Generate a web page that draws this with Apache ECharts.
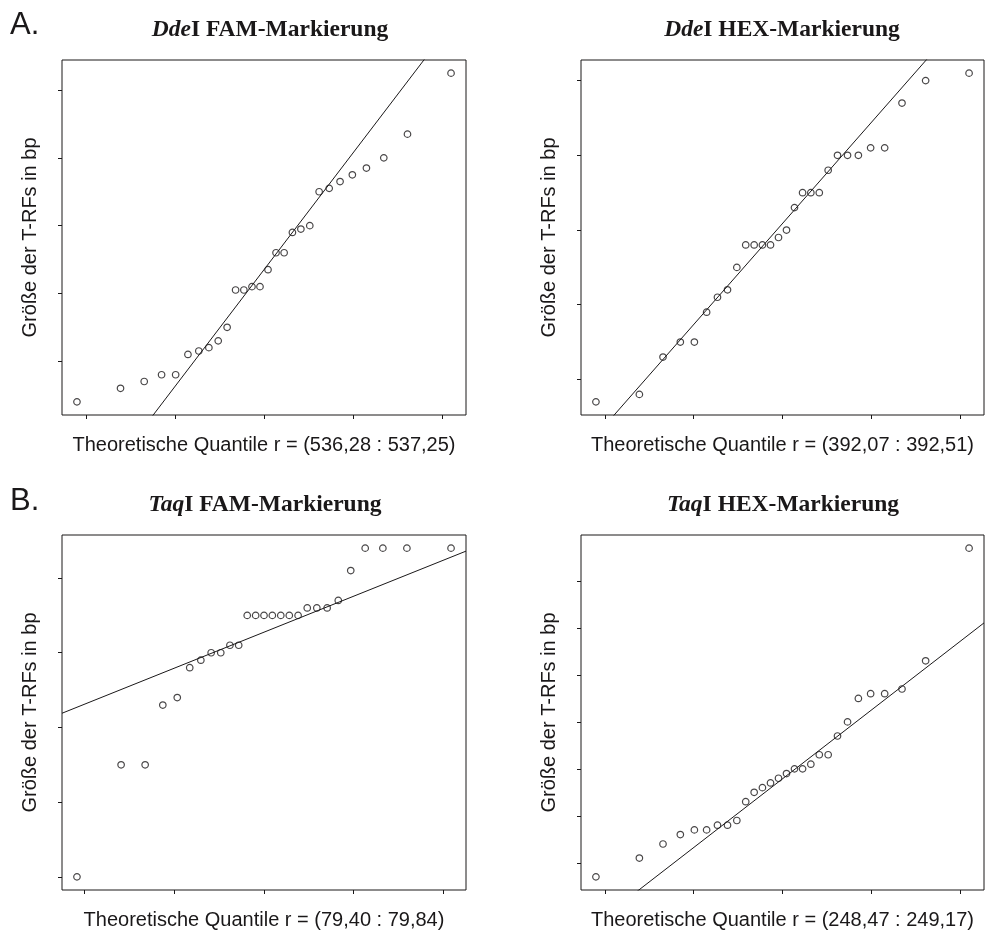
<!DOCTYPE html>
<html>
<head>
<meta charset="utf-8">
<script src="https://cdn.jsdelivr.net/npm/echarts@6/dist/echarts.min.js"></script>
<style>
  html, body { margin: 0; padding: 0; background: #fff; }
  #chart { width: 985px; height: 932px; }
</style>
</head>
<body>
<div id="chart"></div>
<script>
// Theoretical normal quantiles of the ordered samples (28 and 27 fragments)
const quantiles28 = [-2.100, -1.611, -1.345, -1.150, -0.992, -0.854, -0.732, -0.619, -0.514, -0.414,
  -0.319, -0.226, -0.135, -0.045, 0.045, 0.135, 0.226, 0.319, 0.414, 0.514,
  0.619, 0.732, 0.854, 0.992, 1.150, 1.345, 1.611, 2.100];
const quantiles27 = [-2.085, -1.593, -1.325, -1.128, -0.967, -0.828, -0.704, -0.589, -0.482, -0.380,
  -0.282, -0.187, -0.093, 0.000, 0.093, 0.187, 0.282, 0.380, 0.482, 0.589,
  0.704, 0.828, 0.967, 1.128, 1.325, 1.593, 2.085];

// Measured T-RF sizes in bp, sorted
const ddeFamSizes = [536.28, 536.32, 536.34, 536.36, 536.36, 536.42, 536.43, 536.44, 536.46, 536.50,
  536.61, 536.61, 536.62, 536.62, 536.67, 536.72, 536.72, 536.78, 536.79, 536.80,
  536.90, 536.91, 536.93, 536.95, 536.97, 537.00, 537.07, 537.25];
const ddeHexSizes = [392.07, 392.08, 392.13, 392.15, 392.15, 392.19, 392.21, 392.22, 392.25, 392.28,
  392.28, 392.28, 392.28, 392.29, 392.30, 392.33, 392.35, 392.35, 392.35, 392.38,
  392.40, 392.40, 392.40, 392.41, 392.41, 392.47, 392.50, 392.51];
const taqFamSizes = [79.40, 79.55, 79.55, 79.63, 79.64, 79.68, 79.69, 79.70, 79.70, 79.71,
  79.71, 79.75, 79.75, 79.75, 79.75, 79.75, 79.75, 79.75, 79.76, 79.76,
  79.76, 79.77, 79.81, 79.84, 79.84, 79.84, 79.84];
const taqHexSizes = [248.47, 248.51, 248.54, 248.56, 248.57, 248.57, 248.58, 248.58, 248.59, 248.63,
  248.65, 248.66, 248.67, 248.68, 248.69, 248.70, 248.70, 248.71, 248.73, 248.73,
  248.77, 248.80, 248.85, 248.86, 248.86, 248.87, 248.93, 249.17];

// Tick positions (labels are not printed)
const xTicks = [-2, -1, 0, 1, 2];
const yTicksDdeFam = [536.4, 536.6, 536.8, 537.0, 537.2];
const yTicksDdeHex = [392.1, 392.2, 392.3, 392.4, 392.5];
const yTicksTaqFam = [79.4, 79.5, 79.6, 79.7, 79.8];
const yTicksTaqHex = [248.5, 248.6, 248.7, 248.8, 248.9, 249.0, 249.1];

// Panel texts
const enzymes = ['Dde', 'Dde', 'Taq', 'Taq'];
const dyes = ['FAM', 'HEX', 'FAM', 'HEX'];
const sizeRanges = ['536,28 : 537,25', '392,07 : 392,51', '79,40 : 79,84', '248,47 : 249,17'];
const sectionLetters = ['A.', 'B.'];
const yAxisTitle = 'Größe der T-RFs in bp';

const panels = [
  { x: quantiles28, y: ddeFamSizes, yTicks: yTicksDdeFam },
  { x: quantiles28, y: ddeHexSizes, yTicks: yTicksDdeHex },
  { x: quantiles27, y: taqFamSizes, yTicks: yTicksTaqFam },
  { x: quantiles28, y: taqHexSizes, yTicks: yTicksTaqHex }
];

const rects = [
  { left: 62, top: 60, width: 404, height: 355 },
  { left: 581, top: 60, width: 403, height: 355 },
  { left: 62, top: 535, width: 404, height: 355 },
  { left: 581, top: 535, width: 403, height: 355 }
];
const titleCenters = [[270, 30], [782, 30], [265, 505], [783, 505]];

const INK = '#1a1819';
const SANS = 'Liberation Sans, Arial, sans-serif';
const SERIF = 'Liberation Serif, Times New Roman, serif';

// Type-7 sample quantile
function sampleQuantile(sorted, p) {
  const h = (sorted.length - 1) * p;
  const lo = Math.floor(h);
  const hi = Math.min(lo + 1, sorted.length - 1);
  return sorted[lo] + (h - lo) * (sorted[hi] - sorted[lo]);
}
// Reference line through the first and third quartiles
const Z75 = 0.6744897502;
function quartileLine(values) {
  const q1 = sampleQuantile(values, 0.25);
  const q3 = sampleQuantile(values, 0.75);
  return { slope: (q3 - q1) / (2 * Z75), intercept: (q1 + q3) / 2 };
}
// Data range widened by 4 % on each side
function paddedRange(arr) {
  const lo = Math.min(...arr), hi = Math.max(...arr);
  const pad = (hi - lo) * 0.04;
  return [lo - pad, hi + pad];
}

const grids = [], xAxes = [], yAxes = [], series = [];
panels.forEach((p, i) => {
  const [xMin, xMax] = paddedRange(p.x);
  const [yMin, yMax] = paddedRange(p.y);
  grids.push(Object.assign({ show: true, borderColor: INK, borderWidth: 1, backgroundColor: 'transparent', containLabel: false }, rects[i]));
  xAxes.push({
    type: 'value', gridIndex: i, min: xMin, max: xMax, position: 'bottom',
    axisLine: { show: false, onZero: false },
    axisTick: { show: true, inside: false, length: 4, lineStyle: { color: INK, width: 1 }, customValues: xTicks },
    axisLabel: { show: false, customValues: xTicks },
    splitLine: { show: false },
    name: 'Theoretische Quantile r = (' + sizeRanges[i] + ')',
    nameLocation: 'middle', nameGap: 20,
    nameTextStyle: { fontFamily: SANS, fontSize: 20, color: INK }
  });
  yAxes.push({
    type: 'value', gridIndex: i, min: yMin, max: yMax, position: 'left',
    axisLine: { show: false, onZero: false },
    axisTick: { show: true, inside: false, length: 4, lineStyle: { color: INK, width: 1 }, customValues: p.yTicks },
    axisLabel: { show: false, customValues: p.yTicks },
    splitLine: { show: false },
    name: yAxisTitle,
    nameLocation: 'middle', nameGap: 22,
    nameTextStyle: { fontFamily: SANS, fontSize: 20, color: INK }
  });
  const ln = quartileLine(p.y);
  series.push({
    type: 'line', xAxisIndex: i, yAxisIndex: i, clip: true, silent: true,
    symbol: 'none', lineStyle: { color: INK, width: 1 },
    data: [[xMin, ln.intercept + ln.slope * xMin], [xMax, ln.intercept + ln.slope * xMax]]
  });
  series.push({
    type: 'scatter', xAxisIndex: i, yAxisIndex: i, symbol: 'circle', symbolSize: 6.5,
    itemStyle: { color: 'rgba(255,255,255,0)', borderColor: INK, borderWidth: 1.2 },
    data: p.x.map((q, k) => [q, p.y[k]])
  });
});

const graphics = [];
titleCenters.forEach((c, i) => {
  graphics.push({
    type: 'text', x: c[0], y: c[1],
    style: {
      text: '{i|' + enzymes[i] + '}{b|I ' + dyes[i] + '-Markierung}',
      align: 'center', verticalAlign: 'middle',
      rich: {
        i: { fontFamily: SERIF, fontStyle: 'italic', fontWeight: 'bold', fontSize: 23.5, fill: INK },
        b: { fontFamily: SERIF, fontWeight: 'bold', fontSize: 23.5, fill: INK }
      }
    }
  });
});
[[10, 25], [10, 501]].forEach((pos, i) => {
  graphics.push({
    type: 'text', x: pos[0], y: pos[1],
    style: { text: sectionLetters[i], fontFamily: SANS, fontSize: 31, fill: INK, align: 'left', verticalAlign: 'middle' }
  });
});

const chart = echarts.init(document.getElementById('chart'), null, { renderer: 'canvas' });
chart.setOption({
  animation: false,
  backgroundColor: '#fff',
  grid: grids,
  xAxis: xAxes,
  yAxis: yAxes,
  series: series,
  graphic: graphics
});
</script>
</body>
</html>
